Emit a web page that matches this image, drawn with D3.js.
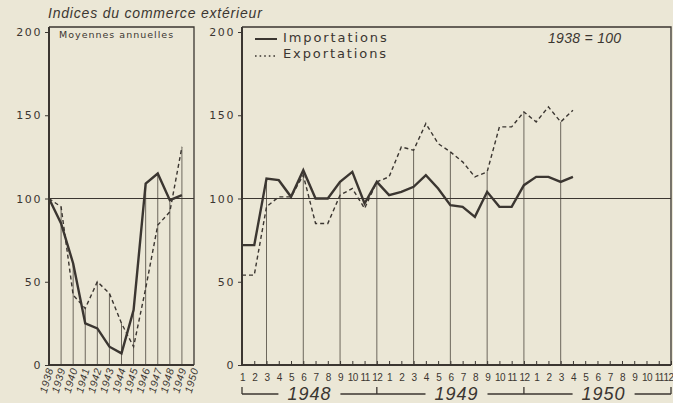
<!DOCTYPE html>
<html>
<head>
    <meta charset="utf-8" />
    <title>Indices du commerce extérieur</title>
    <script src="https://cdn.jsdelivr.net/npm/d3@7"></script>
    <style>
        html, body { margin: 0; padding: 0; background: #ebe7d6; }
        svg { display: block; }
        .tick line { stroke: #3b3631; }
        .tick text { fill: #3b3631; }
    </style>
</head>
<body>
    <svg width="673" height="403" id="mainsvg"></svg>
    <script>
        // annual averages (left panel)
        const years = [1938, 1939, 1940, 1941, 1942, 1943, 1944, 1945, 1946, 1947, 1948, 1949, 1950];
        const annualImports = [100, 85, 61, 25, 22, 11, 7, 33, 109, 115, 99, 102];
        const annualExports = [100, 95, 42, 34, 50, 43, 25, 11, 46, 84, 92, 131];

        // monthly indices, jan 1948 -> apr 1950 (right panel)
        const monthLabels = ['1', '2', '3', '4', '5', '6', '7', '8', '9', '10', '11', '12'];
        const periodYears = ['1948', '1949', '1950'];
        const monthlyImports = [72, 72, 112, 111, 101, 117, 100, 100, 110, 116, 97, 110,
            102, 104, 107, 114, 106, 96, 95, 89, 104, 95, 95, 108,
            113, 113, 110, 113];
        const monthlyExports = [54, 54, 95, 101, 101, 114, 85, 85, 102, 106, 94, 110,
            113, 131, 129, 145, 133, 128, 122, 113, 116, 143, 143, 152,
            146, 155, 146, 153];

        const yTicks = [0, 50, 100, 150, 200];

        const ink = '#3b3631';
        const thin = '#5e584e';
        const paper = '#ebe7d6';

        const svg = d3.select('svg');
        const yTop = 27, yBase = 365;

        const yScale = d3.scaleLinear().domain([0, 200]).range([yBase, 32]);
        const xYear = d3.scaleLinear().domain([1938, 1950]).range([49, 194]);
        const nMonths = periodYears.length * 12;
        const xMonth = d3.scaleLinear().domain([0, nMonths - 1]).range([242, 671]);

        const lineAnnual = data => d3.line()
            .x((d, i) => xYear(years[i]))
            .y(d => yScale(d))(data);
        const lineMonthly = data => d3.line()
            .x((d, i) => xMonth(i))
            .y(d => yScale(d))(data);

        // ---- title
        svg.append('text').text('Indices du commerce extérieur')
            .attr('x', 48).attr('y', 18)
            .attr('font-family', 'Liberation Sans').attr('font-style', 'italic')
            .attr('font-size', 14).attr('letter-spacing', 0.8).attr('fill', ink);

        // ================= left panel =================
        const left = svg.append('g');

        // drop lines
        left.selectAll('.drop').data(annualImports.slice(1)).enter().append('line')
            .attr('x1', (d, i) => xYear(years[i + 1])).attr('x2', (d, i) => xYear(years[i + 1]))
            .attr('y1', (d, i) => yScale(Math.max(d, annualExports[i + 1])))
            .attr('y2', yBase)
            .attr('stroke', thin).attr('stroke-width', 0.9);

        // 100 line
        left.append('line')
            .attr('x1', xYear(1938)).attr('x2', xYear(1950))
            .attr('y1', yScale(100)).attr('y2', yScale(100))
            .attr('stroke', ink).attr('stroke-width', 1.1);

        left.append('path').attr('d', lineAnnual(annualExports))
            .attr('fill', 'none').attr('stroke', ink).attr('stroke-width', 1.4)
            .attr('stroke-dasharray', '4,3');
        left.append('path').attr('d', lineAnnual(annualImports))
            .attr('fill', 'none').attr('stroke', ink).attr('stroke-width', 2.4)
            .attr('stroke-linejoin', 'miter');

        // frame
        left.append('path')
            .attr('d', `M${xYear(1938)},${yTop}H${xYear(1950)}V${yBase}`)
            .attr('fill', 'none').attr('stroke', ink).attr('stroke-width', 1.3);

        const yAxisL = left.append('g').attr('transform', `translate(${xYear(1938)},0)`)
            .call(d3.axisLeft(yScale).tickValues(yTicks).tickSize(4).tickPadding(3));
        yAxisL.select('.domain').attr('d', `M0,${yTop}V${yBase}`).attr('stroke', ink).attr('stroke-width', 2);
        yAxisL.selectAll('.tick text').attr('font-family', 'DejaVu Sans').attr('font-size', 11)
            .attr('letter-spacing', 1.6);

        const xAxisL = left.append('g').attr('transform', `translate(0,${yBase})`)
            .call(d3.axisBottom(xYear).tickValues(years).tickFormat(d3.format('d')).tickSize(0));
        xAxisL.select('.domain').attr('d', `M${xYear(1938)},0H${xYear(1950)}`)
            .attr('stroke', ink).attr('stroke-width', 2);
        xAxisL.selectAll('.tick text')
            .attr('font-family', 'Liberation Sans').attr('font-style', 'italic').attr('font-size', 10.5)
            .attr('letter-spacing', 0.6)
            .attr('text-anchor', 'end').attr('dy', null).attr('y', 0)
            .attr('transform', 'translate(4,4) rotate(-74)');

        left.append('text').text('Moyennes annuelles')
            .attr('x', 59).attr('y', 38)
            .attr('font-family', 'DejaVu Sans').attr('font-size', 9.5).attr('letter-spacing', 1)
            .attr('fill', ink);

        // ================= right panel =================
        const right = svg.append('g');

        const quarterIdx = d3.range(2, monthlyImports.length, 3);
        right.selectAll('.drop').data(quarterIdx).enter().append('line')
            .attr('x1', i => xMonth(i)).attr('x2', i => xMonth(i))
            .attr('y1', i => yScale(Math.max(monthlyImports[i], monthlyExports[i])))
            .attr('y2', yBase)
            .attr('stroke', thin).attr('stroke-width', 0.9);

        right.append('line')
            .attr('x1', xMonth(0)).attr('x2', xMonth(nMonths - 1))
            .attr('y1', yScale(100)).attr('y2', yScale(100))
            .attr('stroke', ink).attr('stroke-width', 1.1);

        right.append('path').attr('d', lineMonthly(monthlyExports))
            .attr('fill', 'none').attr('stroke', ink).attr('stroke-width', 1.4)
            .attr('stroke-dasharray', '4,3');
        right.append('path').attr('d', lineMonthly(monthlyImports))
            .attr('fill', 'none').attr('stroke', ink).attr('stroke-width', 2.4);

        right.append('path')
            .attr('d', `M${xMonth(0)},${yTop}H${xMonth(nMonths - 1)}V${yBase}`)
            .attr('fill', 'none').attr('stroke', ink).attr('stroke-width', 1.3);

        const yAxisR = right.append('g').attr('transform', `translate(${xMonth(0)},0)`)
            .call(d3.axisLeft(yScale).tickValues(yTicks).tickSize(4).tickPadding(3));
        yAxisR.select('.domain').attr('d', `M0,${yTop}V${yBase}`).attr('stroke', ink).attr('stroke-width', 2);
        yAxisR.selectAll('.tick text').attr('font-family', 'DejaVu Sans').attr('font-size', 11)
            .attr('letter-spacing', 1.6);

        const xAxisR = right.append('g').attr('transform', `translate(0,${yBase})`)
            .call(d3.axisBottom(xMonth).tickValues(d3.range(nMonths))
                .tickFormat(i => monthLabels[i % 12]).tickSize(-4).tickPadding(9));
        xAxisR.select('.domain').attr('d', `M${xMonth(0)},0H${xMonth(nMonths - 1)}`)
            .attr('stroke', ink).attr('stroke-width', 2);
        xAxisR.selectAll('.tick text').attr('font-family', 'Liberation Sans').attr('font-size', 10)
            .attr('letter-spacing', -0.6);
        // last label sits on the frame edge, keep it inside the picture
        xAxisR.selectAll('.tick text').filter(i => i === nMonths - 1)
            .attr('text-anchor', 'end').attr('x', 2);

        // year brackets
        const bracketY = 394;
        const br = right.append('g');
        br.append('line').attr('x1', xMonth(0)).attr('x2', xMonth(nMonths - 1))
            .attr('y1', bracketY).attr('y2', bracketY)
            .attr('stroke', ink).attr('stroke-width', 1.3);
        [0, 11, 23, nMonths - 1].forEach(i => {
            br.append('line').attr('x1', xMonth(i)).attr('x2', xMonth(i))
                .attr('y1', bracketY - 7).attr('y2', bracketY)
                .attr('stroke', ink).attr('stroke-width', 1.3);
        });
        periodYears.forEach((y, k) => {
            const cx = xMonth(k * 12 + 5.5);
            br.append('rect').attr('x', cx - 31).attr('y', bracketY - 4)
                .attr('width', 62).attr('height', 8).attr('fill', paper);
            br.append('text').text(y)
                .attr('x', cx).attr('y', 400).attr('text-anchor', 'middle')
                .attr('font-family', 'Liberation Sans').attr('font-style', 'italic')
                .attr('font-size', 18).attr('letter-spacing', 1).attr('fill', ink);
        });

        // legend
        const lg = right.append('g');
        lg.append('line').attr('x1', 255).attr('x2', 277).attr('y1', 39).attr('y2', 39)
            .attr('stroke', ink).attr('stroke-width', 2);
        lg.append('line').attr('x1', 255).attr('x2', 278).attr('y1', 56).attr('y2', 56)
            .attr('stroke', ink).attr('stroke-width', 1.6).attr('stroke-dasharray', '1.6,3');
        lg.append('text').text('Importations').attr('x', 283).attr('y', 42)
            .attr('font-family', 'DejaVu Sans').attr('font-size', 13).attr('letter-spacing', 1.9)
            .attr('fill', ink);
        lg.append('text').text('Exportations').attr('x', 283).attr('y', 57.5)
            .attr('font-family', 'DejaVu Sans').attr('font-size', 13).attr('letter-spacing', 1.9)
            .attr('fill', ink);

        right.append('text').text('1938 = 100').attr('x', 548).attr('y', 43)
            .attr('font-family', 'Liberation Sans').attr('font-style', 'italic')
            .attr('font-size', 14).attr('letter-spacing', 0.3).attr('fill', ink);
    </script>
</body>
</html>
